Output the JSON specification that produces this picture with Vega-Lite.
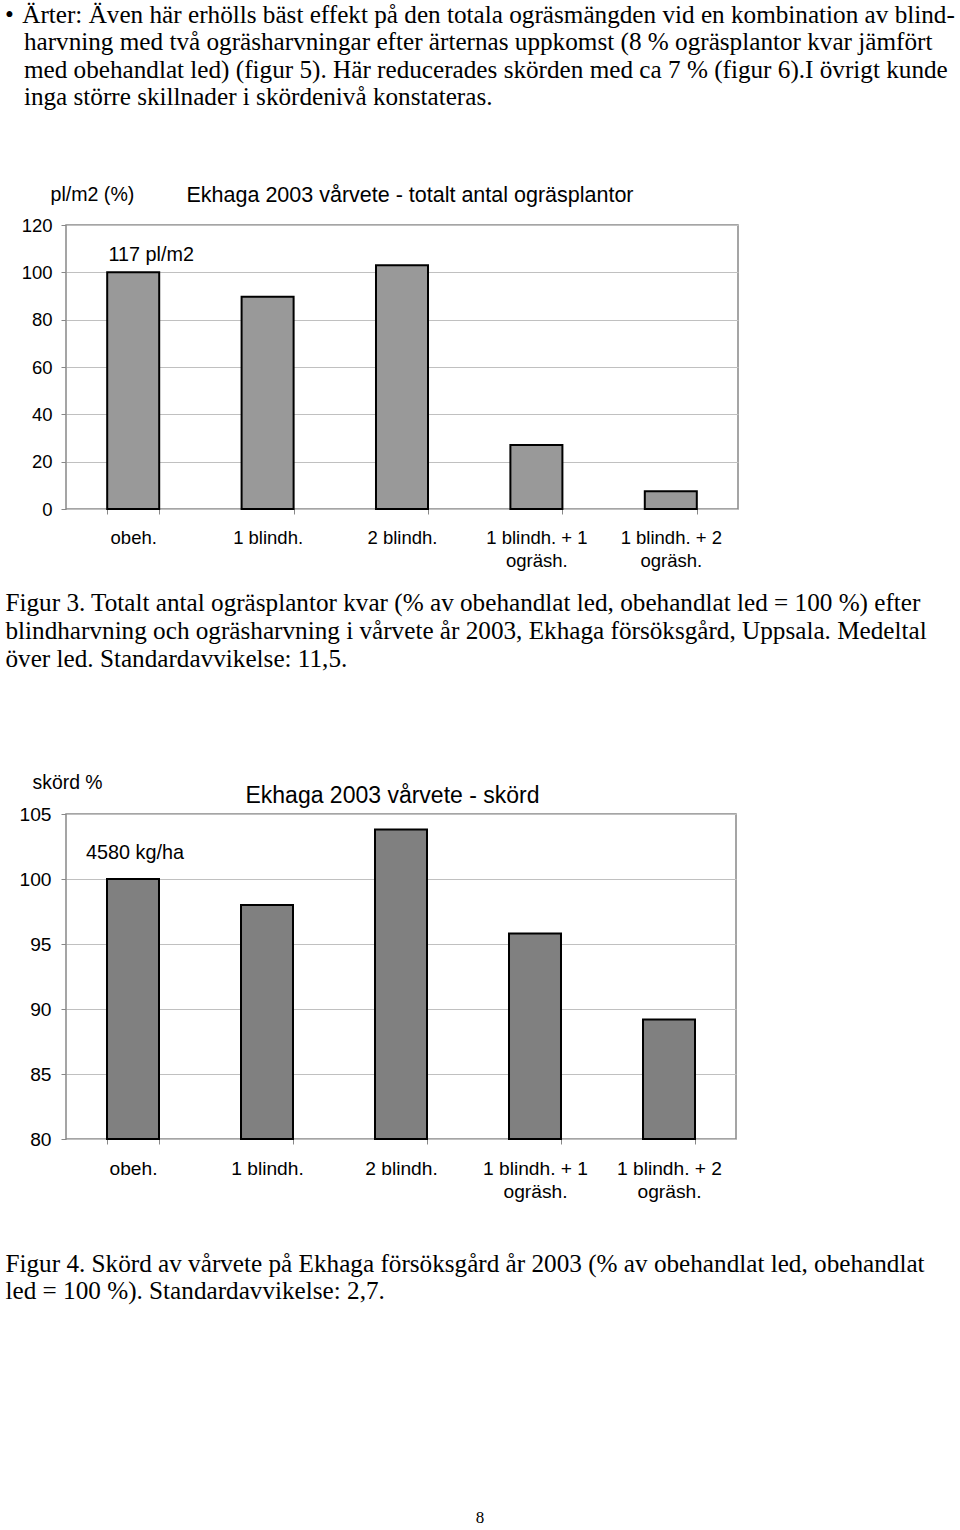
{
  "$schema": "https://vega.github.io/schema/vega-lite/v6.json",
  "autosize": {"type": "none"},
  "padding": {"left": 66, "top": 225, "right": 894, "bottom": 1305},
  "background": "white",
  "bounds": "flush",
  "spacing": 305,
  "title": {
    "text": [
      "•\u2004Ärter: Även här erhölls bäst effekt på den totala ogräsmängden vid en kombination av blind-",
      "\u200b\u00a0\u00a0\u00a0harvning med två ogräsharvningar efter ärternas uppkomst (8 % ogräsplantor kvar jämfört",
      "\u200b\u00a0\u00a0\u00a0med obehandlat led) (figur 5). Här reducerades skörden med ca 7 % (figur 6).I övrigt kunde",
      "\u200b\u00a0\u00a0\u00a0inga större skillnader i skördenivå konstateras."
    ],
    "anchor": "start",
    "frame": "group",
    "dx": -61,
    "baseline": "alphabetic",
    "offset": 53,
    "font": "Liberation Serif",
    "fontSize": 25.2,
    "fontWeight": "normal",
    "lineHeight": 27.3,
    "color": "black"
  },
  "config": {
    "view": {"stroke": "#888888", "strokeWidth": 1.5},
    "axis": {
      "domain": false,
      "tickColor": "#888888",
      "tickSize": 5,
      "labelColor": "black",
      "labelFont": "Liberation Sans",
      "titleColor": "black",
      "titleFontWeight": "normal"
    }
  },
  "vconcat": [
    {
      "width": 672,
      "height": 284,
      "data": {
        "values": [
          {"behandling": "obeh.", "andel": 100, "notering": "117 pl/m2"},
          {"behandling": "1 blindh.", "andel": 89.7},
          {"behandling": "2 blindh.", "andel": 103},
          {"behandling": "1 blindh. + 1 ogräsh.", "andel": 27},
          {"behandling": "1 blindh. + 2 ogräsh.", "andel": 7.5}
        ]
      },
      "title": {
        "text": "Ekhaga 2003 vårvete - totalt antal ogräsplantor",
        "frame": "group",
        "anchor": "middle",
        "dx": 8,
        "baseline": "alphabetic",
        "offset": -39.5,
        "font": "Liberation Sans",
        "fontSize": 21.5,
        "fontWeight": "normal",
        "color": "black"
      },
      "encoding": {
        "x": {
          "field": "behandling",
          "type": "nominal",
          "sort": null,
          "scale": {"paddingInner": 0.613, "paddingOuter": 0.3065},
          "axis": {
            "title": [
              "Figur 3. Totalt antal ogräsplantor kvar (% av obehandlat led, obehandlat led = 100 %) efter",
              "blindharvning och ogräsharvning i vårvete år 2003, Ekhaga försöksgård, Uppsala. Medeltal",
              "över led. Standardavvikelse: 11,5."
            ],
            "titleX": -61,
            "titleY": 101,
            "titleAlign": "left",
            "titleAnchor": "start",
            "titleBaseline": "alphabetic",
            "titleFont": "Liberation Serif",
            "titleFontSize": 25.2,
            "titleLineHeight": 28,
            "labelAngle": 0,
            "labelFontSize": 18.5,
            "labelPadding": 14,
            "labelLineHeight": 23,
            "labelBaseline": "top",
            "labelExpr": "indexof(datum.label, ' ogräsh.') > 0 ? [replace(datum.label, ' ogräsh.', ''), 'ogräsh.'] : datum.label",
            "tickBand": "extent",
            "grid": false
          }
        }
      },
      "layer": [
        {
          "mark": {"type": "bar", "fill": "#999999", "stroke": "black", "strokeWidth": 2},
          "encoding": {
            "y": {
              "field": "andel",
              "type": "quantitative",
              "scale": {"domain": [0, 120], "nice": false},
              "axis": {
                "values": [0, 20, 40, 60, 80, 100, 120],
                "title": "pl/m2 (%)",
                "titleAngle": 0,
                "titleAlign": "left",
                "titleBaseline": "alphabetic",
                "titleX": -16,
                "titleY": -25,
                "titleFont": "Liberation Sans",
                "titleFontSize": 19.6,
                "labelFontSize": 18.5,
                "labelPadding": 9,
                "grid": true,
                "gridColor": "#c0c0c0",
                "gridWidth": 1
              }
            }
          }
        },
        {
          "transform": [{"filter": "datum.notering != null"}],
          "mark": {"type": "text", "dx": 18, "dy": -11, "baseline": "alphabetic", "font": "Liberation Sans", "fontSize": 19.8, "color": "black"},
          "encoding": {
            "y": {"field": "andel", "type": "quantitative"},
            "text": {"field": "notering"}
          }
        }
      ]
    },
    {
      "width": 670,
      "height": 325,
      "data": {
        "values": [
          {"behandling": "obeh.", "skord": 100, "notering": "4580 kg/ha"},
          {"behandling": "1 blindh.", "skord": 98},
          {"behandling": "2 blindh.", "skord": 103.8},
          {"behandling": "1 blindh. + 1 ogräsh.", "skord": 95.8},
          {"behandling": "1 blindh. + 2 ogräsh.", "skord": 89.2}
        ]
      },
      "title": {
        "text": "Ekhaga 2003 vårvete - skörd",
        "frame": "group",
        "anchor": "middle",
        "dx": -8.5,
        "baseline": "alphabetic",
        "offset": -54,
        "font": "Liberation Sans",
        "fontSize": 23,
        "fontWeight": "normal",
        "color": "black"
      },
      "encoding": {
        "x": {
          "field": "behandling",
          "type": "nominal",
          "sort": null,
          "scale": {"paddingInner": 0.612, "paddingOuter": 0.306},
          "axis": {
            "title": [
              "Figur 4. Skörd av vårvete på Ekhaga försöksgård år 2003 (% av obehandlat led, obehandlat",
              "led = 100 %). Standardavvikelse: 2,7."
            ],
            "titleX": -61,
            "titleY": 132,
            "titleAlign": "left",
            "titleAnchor": "start",
            "titleBaseline": "alphabetic",
            "titleFont": "Liberation Serif",
            "titleFontSize": 25.2,
            "titleLineHeight": 27,
            "labelAngle": 0,
            "labelFontSize": 19.2,
            "labelPadding": 15.8,
            "labelLineHeight": 23,
            "labelBaseline": "top",
            "labelExpr": "indexof(datum.label, ' ogräsh.') > 0 ? [replace(datum.label, ' ogräsh.', ''), 'ogräsh.'] : datum.label",
            "tickBand": "extent",
            "grid": false
          }
        }
      },
      "layer": [
        {
          "mark": {"type": "bar", "fill": "#808080", "stroke": "black", "strokeWidth": 2},
          "encoding": {
            "y": {
              "field": "skord",
              "type": "quantitative",
              "scale": {"domain": [80, 105], "nice": false, "zero": false},
              "axis": {
                "values": [80, 85, 90, 95, 100, 105],
                "title": "skörd %",
                "titleAngle": 0,
                "titleAlign": "left",
                "titleBaseline": "alphabetic",
                "titleX": -34,
                "titleY": -26,
                "titleFont": "Liberation Sans",
                "titleFontSize": 19.4,
                "labelFontSize": 19.2,
                "labelPadding": 10,
                "grid": true,
                "gridColor": "#c0c0c0",
                "gridWidth": 1
              }
            },
            "y2": {"datum": 80}
          }
        },
        {
          "transform": [{"filter": "datum.notering != null"}],
          "mark": {"type": "text", "dx": 2, "dy": -20, "baseline": "alphabetic", "font": "Liberation Sans", "fontSize": 19.8, "color": "black"},
          "encoding": {
            "y": {"field": "skord", "type": "quantitative"},
            "text": {"field": "notering"}
          }
        }
      ]
    },
    {
      "width": 828,
      "height": 148,
      "view": {"stroke": null},
      "data": {"values": [{"sida": "8"}]},
      "mark": {"type": "text", "font": "Liberation Serif", "fontSize": 17, "baseline": "middle", "color": "black"},
      "encoding": {"text": {"field": "sida"}}
    }
  ]
}
